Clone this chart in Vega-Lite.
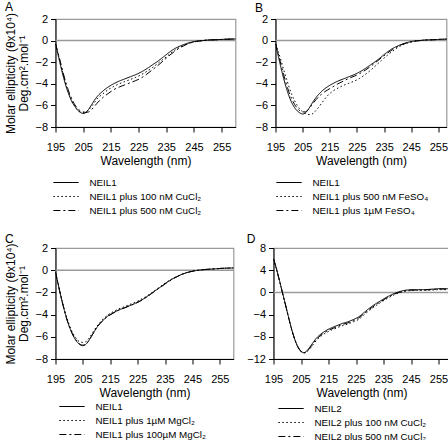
{
"$schema": "https://vega.github.io/schema/vega-lite/v6.json",
"padding": {"left": 3.5, "top": 0, "right": 0, "bottom": 0},
"config": {
 "font": "Liberation Sans",
 "view": {"stroke": "#9a9a9a", "strokeWidth": 1.2},
 "axis": {"grid": false, "domainColor": "black", "tickColor": "black", "labelColor": "black", "titleColor": "black", "labelFontSize": 11, "titleFontSize": 12, "titleFontWeight": "normal", "tickSize": 5, "labelFont": "Liberation Sans", "titleFont": "Liberation Sans", "labelOverlap": false},
 "axisX": {"labelPadding": 9, "titlePadding": 3, "labelFlush": false},
 "axisY": {"labelPadding": 3, "titlePadding": 4, "titleLineHeight": 13, "titleFontSize": 12},
 "legend": {"orient": "none", "direction": "vertical", "symbolType": "stroke", "symbolSize": 640, "symbolStrokeWidth": 1.2, "symbolStrokeColor": "black", "labelFontSize": 9.8, "labelOffset": 10, "rowPadding": 1, "clipHeight": 13, "labelColor": "black"},
 "title": {"fontSize": 12, "fontWeight": "normal", "anchor": "start", "frame": "bounds", "offset": -4, "color": "black"}
},
"resolve": {"scale": {"strokeDash": "independent", "x": "independent", "y": "independent"}, "legend": {"strokeDash": "independent"}},
"spacing": 14,
"vconcat": [
 {"resolve": {"scale": {"strokeDash": "independent", "x": "independent", "y": "independent"}, "legend": {"strokeDash": "independent"}},
  "hconcat": [
  {"title": {"text": "A", "offset": -2}, "width": 180, "height": 108,
   "data": {"values": [
{"nm":195,"v":-0.3,"s":"NEIL1"},{"nm":196,"v":-1.4,"s":"NEIL1"},{"nm":197,"v":-2.5,"s":"NEIL1"},{"nm":198,"v":-3.5,"s":"NEIL1"},{"nm":199,"v":-4.4,"s":"NEIL1"},{"nm":200,"v":-5.1,"s":"NEIL1"},{"nm":201,"v":-5.7,"s":"NEIL1"},{"nm":202,"v":-6.1,"s":"NEIL1"},{"nm":203,"v":-6.45,"s":"NEIL1"},{"nm":204,"v":-6.65,"s":"NEIL1"},{"nm":205,"v":-6.75,"s":"NEIL1"},{"nm":206,"v":-6.65,"s":"NEIL1"},{"nm":207,"v":-6.35,"s":"NEIL1"},{"nm":208,"v":-5.95,"s":"NEIL1"},{"nm":209,"v":-5.55,"s":"NEIL1"},{"nm":210,"v":-5.2,"s":"NEIL1"},{"nm":212,"v":-4.7,"s":"NEIL1"},{"nm":214,"v":-4.3,"s":"NEIL1"},{"nm":216,"v":-4.0,"s":"NEIL1"},{"nm":218,"v":-3.75,"s":"NEIL1"},{"nm":220,"v":-3.55,"s":"NEIL1"},{"nm":222,"v":-3.35,"s":"NEIL1"},{"nm":224,"v":-3.15,"s":"NEIL1"},{"nm":226,"v":-2.9,"s":"NEIL1"},{"nm":228,"v":-2.6,"s":"NEIL1"},{"nm":230,"v":-2.25,"s":"NEIL1"},{"nm":232,"v":-1.9,"s":"NEIL1"},{"nm":234,"v":-1.5,"s":"NEIL1"},{"nm":236,"v":-1.1,"s":"NEIL1"},{"nm":238,"v":-0.75,"s":"NEIL1"},{"nm":240,"v":-0.5,"s":"NEIL1"},{"nm":242,"v":-0.3,"s":"NEIL1"},{"nm":244,"v":-0.15,"s":"NEIL1"},{"nm":246,"v":-0.05,"s":"NEIL1"},{"nm":248,"v":0.0,"s":"NEIL1"},{"nm":250,"v":0.05,"s":"NEIL1"},{"nm":253,"v":0.08,"s":"NEIL1"},{"nm":256,"v":0.12,"s":"NEIL1"},{"nm":260,"v":0.15,"s":"NEIL1"},
{"nm":195,"v":-0.3,"s":"NEIL1 plus 100 nM CuCl₂"},{"nm":196,"v":-1.3,"s":"NEIL1 plus 100 nM CuCl₂"},{"nm":197,"v":-2.35,"s":"NEIL1 plus 100 nM CuCl₂"},{"nm":198,"v":-3.35,"s":"NEIL1 plus 100 nM CuCl₂"},{"nm":199,"v":-4.25,"s":"NEIL1 plus 100 nM CuCl₂"},{"nm":200,"v":-5.0,"s":"NEIL1 plus 100 nM CuCl₂"},{"nm":201,"v":-5.6,"s":"NEIL1 plus 100 nM CuCl₂"},{"nm":202,"v":-6.05,"s":"NEIL1 plus 100 nM CuCl₂"},{"nm":203,"v":-6.4,"s":"NEIL1 plus 100 nM CuCl₂"},{"nm":204,"v":-6.6,"s":"NEIL1 plus 100 nM CuCl₂"},{"nm":205,"v":-6.65,"s":"NEIL1 plus 100 nM CuCl₂"},{"nm":206,"v":-6.6,"s":"NEIL1 plus 100 nM CuCl₂"},{"nm":207,"v":-6.4,"s":"NEIL1 plus 100 nM CuCl₂"},{"nm":208,"v":-6.1,"s":"NEIL1 plus 100 nM CuCl₂"},{"nm":209,"v":-5.75,"s":"NEIL1 plus 100 nM CuCl₂"},{"nm":210,"v":-5.4,"s":"NEIL1 plus 100 nM CuCl₂"},{"nm":212,"v":-4.95,"s":"NEIL1 plus 100 nM CuCl₂"},{"nm":214,"v":-4.55,"s":"NEIL1 plus 100 nM CuCl₂"},{"nm":216,"v":-4.25,"s":"NEIL1 plus 100 nM CuCl₂"},{"nm":218,"v":-4.0,"s":"NEIL1 plus 100 nM CuCl₂"},{"nm":220,"v":-3.8,"s":"NEIL1 plus 100 nM CuCl₂"},{"nm":222,"v":-3.6,"s":"NEIL1 plus 100 nM CuCl₂"},{"nm":224,"v":-3.4,"s":"NEIL1 plus 100 nM CuCl₂"},{"nm":226,"v":-3.15,"s":"NEIL1 plus 100 nM CuCl₂"},{"nm":228,"v":-2.85,"s":"NEIL1 plus 100 nM CuCl₂"},{"nm":230,"v":-2.5,"s":"NEIL1 plus 100 nM CuCl₂"},{"nm":232,"v":-2.1,"s":"NEIL1 plus 100 nM CuCl₂"},{"nm":234,"v":-1.7,"s":"NEIL1 plus 100 nM CuCl₂"},{"nm":236,"v":-1.3,"s":"NEIL1 plus 100 nM CuCl₂"},{"nm":238,"v":-0.9,"s":"NEIL1 plus 100 nM CuCl₂"},{"nm":240,"v":-0.6,"s":"NEIL1 plus 100 nM CuCl₂"},{"nm":242,"v":-0.35,"s":"NEIL1 plus 100 nM CuCl₂"},{"nm":244,"v":-0.18,"s":"NEIL1 plus 100 nM CuCl₂"},{"nm":246,"v":-0.07,"s":"NEIL1 plus 100 nM CuCl₂"},{"nm":248,"v":0.0,"s":"NEIL1 plus 100 nM CuCl₂"},{"nm":250,"v":0.05,"s":"NEIL1 plus 100 nM CuCl₂"},{"nm":253,"v":0.08,"s":"NEIL1 plus 100 nM CuCl₂"},{"nm":256,"v":0.12,"s":"NEIL1 plus 100 nM CuCl₂"},{"nm":260,"v":0.15,"s":"NEIL1 plus 100 nM CuCl₂"},
{"nm":195,"v":-0.3,"s":"NEIL1 plus 500 nM CuCl₂"},{"nm":196,"v":-1.2,"s":"NEIL1 plus 500 nM CuCl₂"},{"nm":197,"v":-2.2,"s":"NEIL1 plus 500 nM CuCl₂"},{"nm":198,"v":-3.2,"s":"NEIL1 plus 500 nM CuCl₂"},{"nm":199,"v":-4.1,"s":"NEIL1 plus 500 nM CuCl₂"},{"nm":200,"v":-4.85,"s":"NEIL1 plus 500 nM CuCl₂"},{"nm":201,"v":-5.45,"s":"NEIL1 plus 500 nM CuCl₂"},{"nm":202,"v":-5.95,"s":"NEIL1 plus 500 nM CuCl₂"},{"nm":203,"v":-6.3,"s":"NEIL1 plus 500 nM CuCl₂"},{"nm":204,"v":-6.5,"s":"NEIL1 plus 500 nM CuCl₂"},{"nm":205,"v":-6.6,"s":"NEIL1 plus 500 nM CuCl₂"},{"nm":206,"v":-6.65,"s":"NEIL1 plus 500 nM CuCl₂"},{"nm":207,"v":-6.6,"s":"NEIL1 plus 500 nM CuCl₂"},{"nm":208,"v":-6.4,"s":"NEIL1 plus 500 nM CuCl₂"},{"nm":209,"v":-6.1,"s":"NEIL1 plus 500 nM CuCl₂"},{"nm":210,"v":-5.8,"s":"NEIL1 plus 500 nM CuCl₂"},{"nm":212,"v":-5.3,"s":"NEIL1 plus 500 nM CuCl₂"},{"nm":214,"v":-4.9,"s":"NEIL1 plus 500 nM CuCl₂"},{"nm":216,"v":-4.55,"s":"NEIL1 plus 500 nM CuCl₂"},{"nm":218,"v":-4.3,"s":"NEIL1 plus 500 nM CuCl₂"},{"nm":220,"v":-4.1,"s":"NEIL1 plus 500 nM CuCl₂"},{"nm":222,"v":-3.9,"s":"NEIL1 plus 500 nM CuCl₂"},{"nm":224,"v":-3.7,"s":"NEIL1 plus 500 nM CuCl₂"},{"nm":226,"v":-3.45,"s":"NEIL1 plus 500 nM CuCl₂"},{"nm":228,"v":-3.1,"s":"NEIL1 plus 500 nM CuCl₂"},{"nm":230,"v":-2.7,"s":"NEIL1 plus 500 nM CuCl₂"},{"nm":232,"v":-2.3,"s":"NEIL1 plus 500 nM CuCl₂"},{"nm":234,"v":-1.85,"s":"NEIL1 plus 500 nM CuCl₂"},{"nm":236,"v":-1.4,"s":"NEIL1 plus 500 nM CuCl₂"},{"nm":238,"v":-1.0,"s":"NEIL1 plus 500 nM CuCl₂"},{"nm":240,"v":-0.65,"s":"NEIL1 plus 500 nM CuCl₂"},{"nm":242,"v":-0.4,"s":"NEIL1 plus 500 nM CuCl₂"},{"nm":244,"v":-0.2,"s":"NEIL1 plus 500 nM CuCl₂"},{"nm":246,"v":-0.08,"s":"NEIL1 plus 500 nM CuCl₂"},{"nm":248,"v":0.0,"s":"NEIL1 plus 500 nM CuCl₂"},{"nm":250,"v":0.05,"s":"NEIL1 plus 500 nM CuCl₂"},{"nm":253,"v":0.08,"s":"NEIL1 plus 500 nM CuCl₂"},{"nm":256,"v":0.12,"s":"NEIL1 plus 500 nM CuCl₂"},{"nm":260,"v":0.15,"s":"NEIL1 plus 500 nM CuCl₂"}
   ]},
   "layer": [
    {"data": {"values": [{}]}, "mark": {"type": "rule", "color": "#9a9a9a", "strokeWidth": 1.5}, "encoding": {"y": {"datum": 0, "type": "quantitative", "axis": {"values": [-8,-6,-4,-2,0,2], "title": ["Molar ellipticity (θx10⁴)", "Deg.cm².mol⁻¹"]}}}},
    {"mark": {"type": "line", "color": "black", "strokeWidth": 1, "interpolate": "monotone", "clip": true},
     "encoding": {
      "x": {"field": "nm", "type": "quantitative", "scale": {"domain": [195, 260], "nice": false, "zero": false}, "axis": {"values": [195,205,215,225,235,245,255], "title": "Wavelength (nm)"}},
      "y": {"field": "v", "type": "quantitative", "scale": {"domain": [-8, 2], "nice": false}, "axis": {"values": [-8,-6,-4,-2,0,2], "title": ["Molar ellipticity (θx10⁴)", "Deg.cm².mol⁻¹"]}},
      "strokeDash": {"field": "s", "type": "nominal", "scale": {"domain": ["NEIL1", "NEIL1 plus 100 nM CuCl₂", "NEIL1 plus 500 nM CuCl₂"], "range": [[1,0],[1.5,2.5],[7,3,2,3]]}, "legend": {"title": null, "legendX": -3, "legendY": 157}}
     }}
   ]},
  {"title": {"text": "B", "offset": -2}, "width": 171, "height": 108,
   "data": {"values": [
{"nm":195,"v":-0.3,"s":"NEIL1"},{"nm":196,"v":-1.4,"s":"NEIL1"},{"nm":197,"v":-2.5,"s":"NEIL1"},{"nm":198,"v":-3.5,"s":"NEIL1"},{"nm":199,"v":-4.4,"s":"NEIL1"},{"nm":200,"v":-5.15,"s":"NEIL1"},{"nm":201,"v":-5.75,"s":"NEIL1"},{"nm":202,"v":-6.2,"s":"NEIL1"},{"nm":203,"v":-6.5,"s":"NEIL1"},{"nm":204,"v":-6.7,"s":"NEIL1"},{"nm":205,"v":-6.8,"s":"NEIL1"},{"nm":206,"v":-6.7,"s":"NEIL1"},{"nm":207,"v":-6.4,"s":"NEIL1"},{"nm":208,"v":-6.0,"s":"NEIL1"},{"nm":209,"v":-5.6,"s":"NEIL1"},{"nm":210,"v":-5.25,"s":"NEIL1"},{"nm":212,"v":-4.7,"s":"NEIL1"},{"nm":214,"v":-4.3,"s":"NEIL1"},{"nm":216,"v":-4.0,"s":"NEIL1"},{"nm":218,"v":-3.75,"s":"NEIL1"},{"nm":220,"v":-3.55,"s":"NEIL1"},{"nm":222,"v":-3.35,"s":"NEIL1"},{"nm":224,"v":-3.15,"s":"NEIL1"},{"nm":226,"v":-2.9,"s":"NEIL1"},{"nm":228,"v":-2.6,"s":"NEIL1"},{"nm":230,"v":-2.25,"s":"NEIL1"},{"nm":232,"v":-1.9,"s":"NEIL1"},{"nm":234,"v":-1.5,"s":"NEIL1"},{"nm":236,"v":-1.1,"s":"NEIL1"},{"nm":238,"v":-0.75,"s":"NEIL1"},{"nm":240,"v":-0.5,"s":"NEIL1"},{"nm":242,"v":-0.3,"s":"NEIL1"},{"nm":244,"v":-0.15,"s":"NEIL1"},{"nm":246,"v":-0.05,"s":"NEIL1"},{"nm":248,"v":0.0,"s":"NEIL1"},{"nm":250,"v":0.05,"s":"NEIL1"},{"nm":253,"v":0.08,"s":"NEIL1"},{"nm":256,"v":0.12,"s":"NEIL1"},{"nm":260,"v":0.15,"s":"NEIL1"},
{"nm":195,"v":-0.3,"s":"NEIL1 plus 500 nM FeSO₄"},{"nm":196,"v":-1.0,"s":"NEIL1 plus 500 nM FeSO₄"},{"nm":197,"v":-1.8,"s":"NEIL1 plus 500 nM FeSO₄"},{"nm":198,"v":-2.7,"s":"NEIL1 plus 500 nM FeSO₄"},{"nm":199,"v":-3.5,"s":"NEIL1 plus 500 nM FeSO₄"},{"nm":200,"v":-4.3,"s":"NEIL1 plus 500 nM FeSO₄"},{"nm":201,"v":-5.0,"s":"NEIL1 plus 500 nM FeSO₄"},{"nm":202,"v":-5.55,"s":"NEIL1 plus 500 nM FeSO₄"},{"nm":203,"v":-6.0,"s":"NEIL1 plus 500 nM FeSO₄"},{"nm":204,"v":-6.35,"s":"NEIL1 plus 500 nM FeSO₄"},{"nm":205,"v":-6.6,"s":"NEIL1 plus 500 nM FeSO₄"},{"nm":206,"v":-6.75,"s":"NEIL1 plus 500 nM FeSO₄"},{"nm":207,"v":-6.85,"s":"NEIL1 plus 500 nM FeSO₄"},{"nm":208,"v":-6.85,"s":"NEIL1 plus 500 nM FeSO₄"},{"nm":209,"v":-6.7,"s":"NEIL1 plus 500 nM FeSO₄"},{"nm":210,"v":-6.45,"s":"NEIL1 plus 500 nM FeSO₄"},{"nm":212,"v":-5.8,"s":"NEIL1 plus 500 nM FeSO₄"},{"nm":214,"v":-5.15,"s":"NEIL1 plus 500 nM FeSO₄"},{"nm":216,"v":-4.7,"s":"NEIL1 plus 500 nM FeSO₄"},{"nm":218,"v":-4.4,"s":"NEIL1 plus 500 nM FeSO₄"},{"nm":220,"v":-4.15,"s":"NEIL1 plus 500 nM FeSO₄"},{"nm":222,"v":-3.95,"s":"NEIL1 plus 500 nM FeSO₄"},{"nm":224,"v":-3.75,"s":"NEIL1 plus 500 nM FeSO₄"},{"nm":226,"v":-3.5,"s":"NEIL1 plus 500 nM FeSO₄"},{"nm":228,"v":-3.15,"s":"NEIL1 plus 500 nM FeSO₄"},{"nm":230,"v":-2.75,"s":"NEIL1 plus 500 nM FeSO₄"},{"nm":232,"v":-2.3,"s":"NEIL1 plus 500 nM FeSO₄"},{"nm":234,"v":-1.85,"s":"NEIL1 plus 500 nM FeSO₄"},{"nm":236,"v":-1.4,"s":"NEIL1 plus 500 nM FeSO₄"},{"nm":238,"v":-1.0,"s":"NEIL1 plus 500 nM FeSO₄"},{"nm":240,"v":-0.65,"s":"NEIL1 plus 500 nM FeSO₄"},{"nm":242,"v":-0.38,"s":"NEIL1 plus 500 nM FeSO₄"},{"nm":244,"v":-0.2,"s":"NEIL1 plus 500 nM FeSO₄"},{"nm":246,"v":-0.08,"s":"NEIL1 plus 500 nM FeSO₄"},{"nm":248,"v":0.0,"s":"NEIL1 plus 500 nM FeSO₄"},{"nm":250,"v":0.05,"s":"NEIL1 plus 500 nM FeSO₄"},{"nm":253,"v":0.08,"s":"NEIL1 plus 500 nM FeSO₄"},{"nm":256,"v":0.12,"s":"NEIL1 plus 500 nM FeSO₄"},{"nm":260,"v":0.15,"s":"NEIL1 plus 500 nM FeSO₄"},
{"nm":195,"v":-0.3,"s":"NEIL1 plus 1µM FeSO₄"},{"nm":196,"v":-1.2,"s":"NEIL1 plus 1µM FeSO₄"},{"nm":197,"v":-2.2,"s":"NEIL1 plus 1µM FeSO₄"},{"nm":198,"v":-3.15,"s":"NEIL1 plus 1µM FeSO₄"},{"nm":199,"v":-4.0,"s":"NEIL1 plus 1µM FeSO₄"},{"nm":200,"v":-4.8,"s":"NEIL1 plus 1µM FeSO₄"},{"nm":201,"v":-5.4,"s":"NEIL1 plus 1µM FeSO₄"},{"nm":202,"v":-5.9,"s":"NEIL1 plus 1µM FeSO₄"},{"nm":203,"v":-6.25,"s":"NEIL1 plus 1µM FeSO₄"},{"nm":204,"v":-6.5,"s":"NEIL1 plus 1µM FeSO₄"},{"nm":205,"v":-6.6,"s":"NEIL1 plus 1µM FeSO₄"},{"nm":206,"v":-6.6,"s":"NEIL1 plus 1µM FeSO₄"},{"nm":207,"v":-6.4,"s":"NEIL1 plus 1µM FeSO₄"},{"nm":208,"v":-6.1,"s":"NEIL1 plus 1µM FeSO₄"},{"nm":209,"v":-5.75,"s":"NEIL1 plus 1µM FeSO₄"},{"nm":210,"v":-5.45,"s":"NEIL1 plus 1µM FeSO₄"},{"nm":212,"v":-4.95,"s":"NEIL1 plus 1µM FeSO₄"},{"nm":214,"v":-4.6,"s":"NEIL1 plus 1µM FeSO₄"},{"nm":216,"v":-4.3,"s":"NEIL1 plus 1µM FeSO₄"},{"nm":218,"v":-4.0,"s":"NEIL1 plus 1µM FeSO₄"},{"nm":220,"v":-3.75,"s":"NEIL1 plus 1µM FeSO₄"},{"nm":222,"v":-3.5,"s":"NEIL1 plus 1µM FeSO₄"},{"nm":224,"v":-3.3,"s":"NEIL1 plus 1µM FeSO₄"},{"nm":226,"v":-3.05,"s":"NEIL1 plus 1µM FeSO₄"},{"nm":228,"v":-2.75,"s":"NEIL1 plus 1µM FeSO₄"},{"nm":230,"v":-2.4,"s":"NEIL1 plus 1µM FeSO₄"},{"nm":232,"v":-2.0,"s":"NEIL1 plus 1µM FeSO₄"},{"nm":234,"v":-1.6,"s":"NEIL1 plus 1µM FeSO₄"},{"nm":236,"v":-1.2,"s":"NEIL1 plus 1µM FeSO₄"},{"nm":238,"v":-0.85,"s":"NEIL1 plus 1µM FeSO₄"},{"nm":240,"v":-0.55,"s":"NEIL1 plus 1µM FeSO₄"},{"nm":242,"v":-0.32,"s":"NEIL1 plus 1µM FeSO₄"},{"nm":244,"v":-0.16,"s":"NEIL1 plus 1µM FeSO₄"},{"nm":246,"v":-0.06,"s":"NEIL1 plus 1µM FeSO₄"},{"nm":248,"v":0.0,"s":"NEIL1 plus 1µM FeSO₄"},{"nm":250,"v":0.05,"s":"NEIL1 plus 1µM FeSO₄"},{"nm":253,"v":0.08,"s":"NEIL1 plus 1µM FeSO₄"},{"nm":256,"v":0.12,"s":"NEIL1 plus 1µM FeSO₄"},{"nm":260,"v":0.15,"s":"NEIL1 plus 1µM FeSO₄"}
   ]},
   "layer": [
    {"data": {"values": [{}]}, "mark": {"type": "rule", "color": "#9a9a9a", "strokeWidth": 1.5}, "encoding": {"y": {"datum": 0, "type": "quantitative", "axis": {"values": [-8,-6,-4,-2,0,2], "title": null}}}},
    {"mark": {"type": "line", "color": "black", "strokeWidth": 1, "interpolate": "monotone", "clip": true},
     "encoding": {
      "x": {"field": "nm", "type": "quantitative", "scale": {"domain": [195, 258], "nice": false, "zero": false}, "axis": {"values": [195,205,215,225,235,245,255], "title": "Wavelength (nm)"}},
      "y": {"field": "v", "type": "quantitative", "scale": {"domain": [-8, 2], "nice": false}, "axis": {"values": [-8,-6,-4,-2,0,2], "title": null}},
      "strokeDash": {"field": "s", "type": "nominal", "scale": {"domain": ["NEIL1", "NEIL1 plus 500 nM FeSO₄", "NEIL1 plus 1µM FeSO₄"], "range": [[1,0],[1.5,2.5],[7,3,2,3]]}, "legend": {"title": null, "legendX": 0, "legendY": 157}}
     }}
   ]}
 ], "spacing": 16},
 {"resolve": {"scale": {"strokeDash": "independent", "x": "independent", "y": "independent"}, "legend": {"strokeDash": "independent"}},
  "hconcat": [
  {"title": "C", "width": 178, "height": 111,
   "data": {"values": [
{"nm":195,"v":-0.2,"s":"NEIL1"},{"nm":196,"v":-1.3,"s":"NEIL1"},{"nm":197,"v":-2.4,"s":"NEIL1"},{"nm":198,"v":-3.4,"s":"NEIL1"},{"nm":199,"v":-4.3,"s":"NEIL1"},{"nm":200,"v":-5.05,"s":"NEIL1"},{"nm":201,"v":-5.65,"s":"NEIL1"},{"nm":202,"v":-6.15,"s":"NEIL1"},{"nm":203,"v":-6.5,"s":"NEIL1"},{"nm":204,"v":-6.72,"s":"NEIL1"},{"nm":205,"v":-6.8,"s":"NEIL1"},{"nm":206,"v":-6.7,"s":"NEIL1"},{"nm":207,"v":-6.4,"s":"NEIL1"},{"nm":208,"v":-6.0,"s":"NEIL1"},{"nm":209,"v":-5.6,"s":"NEIL1"},{"nm":210,"v":-5.2,"s":"NEIL1"},{"nm":212,"v":-4.6,"s":"NEIL1"},{"nm":214,"v":-4.15,"s":"NEIL1"},{"nm":216,"v":-3.85,"s":"NEIL1"},{"nm":218,"v":-3.6,"s":"NEIL1"},{"nm":220,"v":-3.4,"s":"NEIL1"},{"nm":222,"v":-3.2,"s":"NEIL1"},{"nm":224,"v":-3.0,"s":"NEIL1"},{"nm":226,"v":-2.75,"s":"NEIL1"},{"nm":228,"v":-2.45,"s":"NEIL1"},{"nm":230,"v":-2.1,"s":"NEIL1"},{"nm":232,"v":-1.75,"s":"NEIL1"},{"nm":234,"v":-1.4,"s":"NEIL1"},{"nm":236,"v":-1.05,"s":"NEIL1"},{"nm":238,"v":-0.75,"s":"NEIL1"},{"nm":240,"v":-0.5,"s":"NEIL1"},{"nm":242,"v":-0.3,"s":"NEIL1"},{"nm":244,"v":-0.15,"s":"NEIL1"},{"nm":246,"v":-0.05,"s":"NEIL1"},{"nm":248,"v":0.02,"s":"NEIL1"},{"nm":250,"v":0.07,"s":"NEIL1"},{"nm":253,"v":0.12,"s":"NEIL1"},{"nm":256,"v":0.17,"s":"NEIL1"},{"nm":260,"v":0.2,"s":"NEIL1"},
{"nm":195,"v":-0.2,"s":"NEIL1 plus 1µM  MgCl₂"},{"nm":196,"v":-1.25,"s":"NEIL1 plus 1µM  MgCl₂"},{"nm":197,"v":-2.3,"s":"NEIL1 plus 1µM  MgCl₂"},{"nm":198,"v":-3.3,"s":"NEIL1 plus 1µM  MgCl₂"},{"nm":199,"v":-4.15,"s":"NEIL1 plus 1µM  MgCl₂"},{"nm":200,"v":-4.9,"s":"NEIL1 plus 1µM  MgCl₂"},{"nm":201,"v":-5.5,"s":"NEIL1 plus 1µM  MgCl₂"},{"nm":202,"v":-5.95,"s":"NEIL1 plus 1µM  MgCl₂"},{"nm":203,"v":-6.3,"s":"NEIL1 plus 1µM  MgCl₂"},{"nm":204,"v":-6.45,"s":"NEIL1 plus 1µM  MgCl₂"},{"nm":205,"v":-6.5,"s":"NEIL1 plus 1µM  MgCl₂"},{"nm":206,"v":-6.45,"s":"NEIL1 plus 1µM  MgCl₂"},{"nm":207,"v":-6.2,"s":"NEIL1 plus 1µM  MgCl₂"},{"nm":208,"v":-5.85,"s":"NEIL1 plus 1µM  MgCl₂"},{"nm":209,"v":-5.45,"s":"NEIL1 plus 1µM  MgCl₂"},{"nm":210,"v":-5.1,"s":"NEIL1 plus 1µM  MgCl₂"},{"nm":212,"v":-4.5,"s":"NEIL1 plus 1µM  MgCl₂"},{"nm":214,"v":-4.05,"s":"NEIL1 plus 1µM  MgCl₂"},{"nm":216,"v":-3.75,"s":"NEIL1 plus 1µM  MgCl₂"},{"nm":218,"v":-3.5,"s":"NEIL1 plus 1µM  MgCl₂"},{"nm":220,"v":-3.3,"s":"NEIL1 plus 1µM  MgCl₂"},{"nm":222,"v":-3.1,"s":"NEIL1 plus 1µM  MgCl₂"},{"nm":224,"v":-2.9,"s":"NEIL1 plus 1µM  MgCl₂"},{"nm":226,"v":-2.65,"s":"NEIL1 plus 1µM  MgCl₂"},{"nm":228,"v":-2.38,"s":"NEIL1 plus 1µM  MgCl₂"},{"nm":230,"v":-2.05,"s":"NEIL1 plus 1µM  MgCl₂"},{"nm":232,"v":-1.7,"s":"NEIL1 plus 1µM  MgCl₂"},{"nm":234,"v":-1.35,"s":"NEIL1 plus 1µM  MgCl₂"},{"nm":236,"v":-1.0,"s":"NEIL1 plus 1µM  MgCl₂"},{"nm":238,"v":-0.72,"s":"NEIL1 plus 1µM  MgCl₂"},{"nm":240,"v":-0.48,"s":"NEIL1 plus 1µM  MgCl₂"},{"nm":242,"v":-0.28,"s":"NEIL1 plus 1µM  MgCl₂"},{"nm":244,"v":-0.14,"s":"NEIL1 plus 1µM  MgCl₂"},{"nm":246,"v":-0.04,"s":"NEIL1 plus 1µM  MgCl₂"},{"nm":248,"v":0.02,"s":"NEIL1 plus 1µM  MgCl₂"},{"nm":250,"v":0.07,"s":"NEIL1 plus 1µM  MgCl₂"},{"nm":253,"v":0.12,"s":"NEIL1 plus 1µM  MgCl₂"},{"nm":256,"v":0.17,"s":"NEIL1 plus 1µM  MgCl₂"},{"nm":260,"v":0.2,"s":"NEIL1 plus 1µM  MgCl₂"},
{"nm":195,"v":-0.2,"s":"NEIL1 plus 100µM  MgCl₂"},{"nm":196,"v":-1.3,"s":"NEIL1 plus 100µM  MgCl₂"},{"nm":197,"v":-2.4,"s":"NEIL1 plus 100µM  MgCl₂"},{"nm":198,"v":-3.4,"s":"NEIL1 plus 100µM  MgCl₂"},{"nm":199,"v":-4.3,"s":"NEIL1 plus 100µM  MgCl₂"},{"nm":200,"v":-5.05,"s":"NEIL1 plus 100µM  MgCl₂"},{"nm":201,"v":-5.65,"s":"NEIL1 plus 100µM  MgCl₂"},{"nm":202,"v":-6.1,"s":"NEIL1 plus 100µM  MgCl₂"},{"nm":203,"v":-6.45,"s":"NEIL1 plus 100µM  MgCl₂"},{"nm":204,"v":-6.68,"s":"NEIL1 plus 100µM  MgCl₂"},{"nm":205,"v":-6.75,"s":"NEIL1 plus 100µM  MgCl₂"},{"nm":206,"v":-6.68,"s":"NEIL1 plus 100µM  MgCl₂"},{"nm":207,"v":-6.4,"s":"NEIL1 plus 100µM  MgCl₂"},{"nm":208,"v":-6.0,"s":"NEIL1 plus 100µM  MgCl₂"},{"nm":209,"v":-5.6,"s":"NEIL1 plus 100µM  MgCl₂"},{"nm":210,"v":-5.2,"s":"NEIL1 plus 100µM  MgCl₂"},{"nm":212,"v":-4.62,"s":"NEIL1 plus 100µM  MgCl₂"},{"nm":214,"v":-4.18,"s":"NEIL1 plus 100µM  MgCl₂"},{"nm":216,"v":-3.88,"s":"NEIL1 plus 100µM  MgCl₂"},{"nm":218,"v":-3.62,"s":"NEIL1 plus 100µM  MgCl₂"},{"nm":220,"v":-3.42,"s":"NEIL1 plus 100µM  MgCl₂"},{"nm":222,"v":-3.22,"s":"NEIL1 plus 100µM  MgCl₂"},{"nm":224,"v":-3.02,"s":"NEIL1 plus 100µM  MgCl₂"},{"nm":226,"v":-2.78,"s":"NEIL1 plus 100µM  MgCl₂"},{"nm":228,"v":-2.47,"s":"NEIL1 plus 100µM  MgCl₂"},{"nm":230,"v":-2.12,"s":"NEIL1 plus 100µM  MgCl₂"},{"nm":232,"v":-1.77,"s":"NEIL1 plus 100µM  MgCl₂"},{"nm":234,"v":-1.42,"s":"NEIL1 plus 100µM  MgCl₂"},{"nm":236,"v":-1.07,"s":"NEIL1 plus 100µM  MgCl₂"},{"nm":238,"v":-0.77,"s":"NEIL1 plus 100µM  MgCl₂"},{"nm":240,"v":-0.51,"s":"NEIL1 plus 100µM  MgCl₂"},{"nm":242,"v":-0.3,"s":"NEIL1 plus 100µM  MgCl₂"},{"nm":244,"v":-0.15,"s":"NEIL1 plus 100µM  MgCl₂"},{"nm":246,"v":-0.05,"s":"NEIL1 plus 100µM  MgCl₂"},{"nm":248,"v":0.02,"s":"NEIL1 plus 100µM  MgCl₂"},{"nm":250,"v":0.07,"s":"NEIL1 plus 100µM  MgCl₂"},{"nm":253,"v":0.12,"s":"NEIL1 plus 100µM  MgCl₂"},{"nm":256,"v":0.17,"s":"NEIL1 plus 100µM  MgCl₂"},{"nm":260,"v":0.2,"s":"NEIL1 plus 100µM  MgCl₂"}
   ]},
   "layer": [
    {"data": {"values": [{}]}, "mark": {"type": "rule", "color": "#9a9a9a", "strokeWidth": 1.5}, "encoding": {"y": {"datum": 0, "type": "quantitative", "axis": {"values": [-8,-6,-4,-2,0,2], "title": ["Molar ellipticity (θx10⁴)", "Deg.cm².mol⁻¹"]}}}},
    {"mark": {"type": "line", "color": "black", "strokeWidth": 1, "interpolate": "monotone", "clip": true},
     "encoding": {
      "x": {"field": "nm", "type": "quantitative", "scale": {"domain": [195, 260], "nice": false, "zero": false}, "axis": {"values": [195,205,215,225,235,245,255], "title": "Wavelength (nm)"}},
      "y": {"field": "v", "type": "quantitative", "scale": {"domain": [-8, 2], "nice": false}, "axis": {"values": [-8,-6,-4,-2,0,2], "title": ["Molar ellipticity (θx10⁴)", "Deg.cm².mol⁻¹"]}},
      "strokeDash": {"field": "s", "type": "nominal", "scale": {"domain": ["NEIL1", "NEIL1 plus 1µM  MgCl₂", "NEIL1 plus 100µM  MgCl₂"], "range": [[1,0],[1.5,2.5],[7,3,2,3]]}, "legend": {"title": null, "legendX": 3, "legendY": 152}}
     }}
   ]},
  {"title": "D", "width": 176, "height": 111,
   "data": {"values": [
{"nm":195,"v":6.1,"s":"NEIL2"},{"nm":196,"v":4.4,"s":"NEIL2"},{"nm":197,"v":2.5,"s":"NEIL2"},{"nm":198,"v":0.5,"s":"NEIL2"},{"nm":199,"v":-1.5,"s":"NEIL2"},{"nm":200,"v":-3.5,"s":"NEIL2"},{"nm":201,"v":-5.5,"s":"NEIL2"},{"nm":202,"v":-7.3,"s":"NEIL2"},{"nm":203,"v":-8.8,"s":"NEIL2"},{"nm":204,"v":-9.9,"s":"NEIL2"},{"nm":205,"v":-10.6,"s":"NEIL2"},{"nm":206,"v":-10.85,"s":"NEIL2"},{"nm":207,"v":-10.6,"s":"NEIL2"},{"nm":208,"v":-10.0,"s":"NEIL2"},{"nm":209,"v":-9.3,"s":"NEIL2"},{"nm":210,"v":-8.6,"s":"NEIL2"},{"nm":212,"v":-7.6,"s":"NEIL2"},{"nm":214,"v":-6.9,"s":"NEIL2"},{"nm":216,"v":-6.4,"s":"NEIL2"},{"nm":218,"v":-6.0,"s":"NEIL2"},{"nm":220,"v":-5.6,"s":"NEIL2"},{"nm":222,"v":-5.3,"s":"NEIL2"},{"nm":224,"v":-4.9,"s":"NEIL2"},{"nm":226,"v":-4.4,"s":"NEIL2"},{"nm":228,"v":-3.6,"s":"NEIL2"},{"nm":230,"v":-2.8,"s":"NEIL2"},{"nm":232,"v":-2.1,"s":"NEIL2"},{"nm":234,"v":-1.5,"s":"NEIL2"},{"nm":236,"v":-0.9,"s":"NEIL2"},{"nm":238,"v":-0.4,"s":"NEIL2"},{"nm":240,"v":0.0,"s":"NEIL2"},{"nm":242,"v":0.3,"s":"NEIL2"},{"nm":244,"v":0.45,"s":"NEIL2"},{"nm":246,"v":0.5,"s":"NEIL2"},{"nm":248,"v":0.5,"s":"NEIL2"},{"nm":250,"v":0.5,"s":"NEIL2"},{"nm":253,"v":0.6,"s":"NEIL2"},{"nm":256,"v":0.7,"s":"NEIL2"},{"nm":260,"v":0.6,"s":"NEIL2"},
{"nm":195,"v":6.0,"s":"NEIL2 plus 100 nM CuCl₂"},{"nm":196,"v":4.3,"s":"NEIL2 plus 100 nM CuCl₂"},{"nm":197,"v":2.4,"s":"NEIL2 plus 100 nM CuCl₂"},{"nm":198,"v":0.4,"s":"NEIL2 plus 100 nM CuCl₂"},{"nm":199,"v":-1.6,"s":"NEIL2 plus 100 nM CuCl₂"},{"nm":200,"v":-3.6,"s":"NEIL2 plus 100 nM CuCl₂"},{"nm":201,"v":-5.6,"s":"NEIL2 plus 100 nM CuCl₂"},{"nm":202,"v":-7.4,"s":"NEIL2 plus 100 nM CuCl₂"},{"nm":203,"v":-8.9,"s":"NEIL2 plus 100 nM CuCl₂"},{"nm":204,"v":-10.0,"s":"NEIL2 plus 100 nM CuCl₂"},{"nm":205,"v":-10.7,"s":"NEIL2 plus 100 nM CuCl₂"},{"nm":206,"v":-10.9,"s":"NEIL2 plus 100 nM CuCl₂"},{"nm":207,"v":-10.75,"s":"NEIL2 plus 100 nM CuCl₂"},{"nm":208,"v":-10.3,"s":"NEIL2 plus 100 nM CuCl₂"},{"nm":209,"v":-9.7,"s":"NEIL2 plus 100 nM CuCl₂"},{"nm":210,"v":-9.0,"s":"NEIL2 plus 100 nM CuCl₂"},{"nm":212,"v":-8.0,"s":"NEIL2 plus 100 nM CuCl₂"},{"nm":214,"v":-7.3,"s":"NEIL2 plus 100 nM CuCl₂"},{"nm":216,"v":-6.8,"s":"NEIL2 plus 100 nM CuCl₂"},{"nm":218,"v":-6.4,"s":"NEIL2 plus 100 nM CuCl₂"},{"nm":220,"v":-6.0,"s":"NEIL2 plus 100 nM CuCl₂"},{"nm":222,"v":-5.7,"s":"NEIL2 plus 100 nM CuCl₂"},{"nm":224,"v":-5.3,"s":"NEIL2 plus 100 nM CuCl₂"},{"nm":226,"v":-4.85,"s":"NEIL2 plus 100 nM CuCl₂"},{"nm":228,"v":-4.0,"s":"NEIL2 plus 100 nM CuCl₂"},{"nm":230,"v":-3.2,"s":"NEIL2 plus 100 nM CuCl₂"},{"nm":232,"v":-2.45,"s":"NEIL2 plus 100 nM CuCl₂"},{"nm":234,"v":-1.8,"s":"NEIL2 plus 100 nM CuCl₂"},{"nm":236,"v":-1.2,"s":"NEIL2 plus 100 nM CuCl₂"},{"nm":238,"v":-0.65,"s":"NEIL2 plus 100 nM CuCl₂"},{"nm":240,"v":-0.2,"s":"NEIL2 plus 100 nM CuCl₂"},{"nm":242,"v":0.1,"s":"NEIL2 plus 100 nM CuCl₂"},{"nm":244,"v":0.3,"s":"NEIL2 plus 100 nM CuCl₂"},{"nm":246,"v":0.35,"s":"NEIL2 plus 100 nM CuCl₂"},{"nm":248,"v":0.38,"s":"NEIL2 plus 100 nM CuCl₂"},{"nm":250,"v":0.4,"s":"NEIL2 plus 100 nM CuCl₂"},{"nm":253,"v":0.45,"s":"NEIL2 plus 100 nM CuCl₂"},{"nm":256,"v":0.5,"s":"NEIL2 plus 100 nM CuCl₂"},{"nm":260,"v":0.45,"s":"NEIL2 plus 100 nM CuCl₂"},
{"nm":195,"v":6.0,"s":"NEIL2 plus 500 nM CuCl₂"},{"nm":196,"v":4.35,"s":"NEIL2 plus 500 nM CuCl₂"},{"nm":197,"v":2.45,"s":"NEIL2 plus 500 nM CuCl₂"},{"nm":198,"v":0.45,"s":"NEIL2 plus 500 nM CuCl₂"},{"nm":199,"v":-1.55,"s":"NEIL2 plus 500 nM CuCl₂"},{"nm":200,"v":-3.55,"s":"NEIL2 plus 500 nM CuCl₂"},{"nm":201,"v":-5.55,"s":"NEIL2 plus 500 nM CuCl₂"},{"nm":202,"v":-7.35,"s":"NEIL2 plus 500 nM CuCl₂"},{"nm":203,"v":-8.85,"s":"NEIL2 plus 500 nM CuCl₂"},{"nm":204,"v":-9.95,"s":"NEIL2 plus 500 nM CuCl₂"},{"nm":205,"v":-10.65,"s":"NEIL2 plus 500 nM CuCl₂"},{"nm":206,"v":-10.9,"s":"NEIL2 plus 500 nM CuCl₂"},{"nm":207,"v":-10.7,"s":"NEIL2 plus 500 nM CuCl₂"},{"nm":208,"v":-10.15,"s":"NEIL2 plus 500 nM CuCl₂"},{"nm":209,"v":-9.5,"s":"NEIL2 plus 500 nM CuCl₂"},{"nm":210,"v":-8.8,"s":"NEIL2 plus 500 nM CuCl₂"},{"nm":212,"v":-7.8,"s":"NEIL2 plus 500 nM CuCl₂"},{"nm":214,"v":-7.1,"s":"NEIL2 plus 500 nM CuCl₂"},{"nm":216,"v":-6.6,"s":"NEIL2 plus 500 nM CuCl₂"},{"nm":218,"v":-6.2,"s":"NEIL2 plus 500 nM CuCl₂"},{"nm":220,"v":-5.8,"s":"NEIL2 plus 500 nM CuCl₂"},{"nm":222,"v":-5.5,"s":"NEIL2 plus 500 nM CuCl₂"},{"nm":224,"v":-5.1,"s":"NEIL2 plus 500 nM CuCl₂"},{"nm":226,"v":-4.6,"s":"NEIL2 plus 500 nM CuCl₂"},{"nm":228,"v":-3.8,"s":"NEIL2 plus 500 nM CuCl₂"},{"nm":230,"v":-3.0,"s":"NEIL2 plus 500 nM CuCl₂"},{"nm":232,"v":-2.3,"s":"NEIL2 plus 500 nM CuCl₂"},{"nm":234,"v":-1.65,"s":"NEIL2 plus 500 nM CuCl₂"},{"nm":236,"v":-1.05,"s":"NEIL2 plus 500 nM CuCl₂"},{"nm":238,"v":-0.55,"s":"NEIL2 plus 500 nM CuCl₂"},{"nm":240,"v":-0.1,"s":"NEIL2 plus 500 nM CuCl₂"},{"nm":242,"v":0.2,"s":"NEIL2 plus 500 nM CuCl₂"},{"nm":244,"v":0.38,"s":"NEIL2 plus 500 nM CuCl₂"},{"nm":246,"v":0.42,"s":"NEIL2 plus 500 nM CuCl₂"},{"nm":248,"v":0.45,"s":"NEIL2 plus 500 nM CuCl₂"},{"nm":250,"v":0.45,"s":"NEIL2 plus 500 nM CuCl₂"},{"nm":253,"v":0.52,"s":"NEIL2 plus 500 nM CuCl₂"},{"nm":256,"v":0.6,"s":"NEIL2 plus 500 nM CuCl₂"},{"nm":260,"v":0.55,"s":"NEIL2 plus 500 nM CuCl₂"}
   ]},
   "layer": [
    {"data": {"values": [{}]}, "mark": {"type": "rule", "color": "#9a9a9a", "strokeWidth": 1.5}, "encoding": {"y": {"datum": 0, "type": "quantitative", "axis": {"values": [-12,-8,-4,0,4,8], "title": null}}}},
    {"mark": {"type": "line", "color": "black", "strokeWidth": 1, "interpolate": "monotone", "clip": true},
     "encoding": {
      "x": {"field": "nm", "type": "quantitative", "scale": {"domain": [195, 259], "nice": false, "zero": false}, "axis": {"values": [195,205,215,225,235,245,255], "title": "Wavelength (nm)"}},
      "y": {"field": "v", "type": "quantitative", "scale": {"domain": [-12, 8], "nice": false}, "axis": {"values": [-12,-8,-4,0,4,8], "title": null}},
      "strokeDash": {"field": "s", "type": "nominal", "scale": {"domain": ["NEIL2", "NEIL2 plus 100 nM CuCl₂", "NEIL2 plus 500 nM CuCl₂"], "range": [[1,0],[1.5,2.5],[7,3,2,3]]}, "legend": {"title": null, "legendX": 4, "legendY": 154}}
     }}
   ]}
 ], "spacing": 10}
]
}
